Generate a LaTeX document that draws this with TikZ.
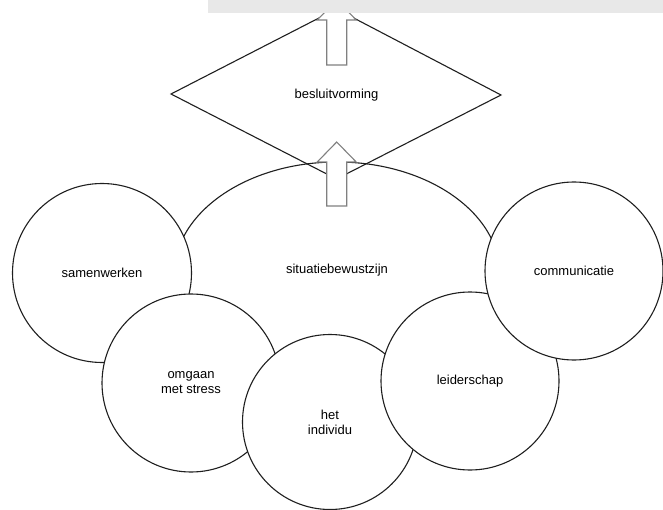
\documentclass[tikz,border=0pt]{standalone}
\usepackage{fontspec}
\setmainfont{Liberation Sans}
\begin{document}
\begin{tikzpicture}[x=1pt,y=-1pt,
  outline/.style={draw=black!88, line width=1.1pt},
  topic/.style={circle, outline, fill=white, inner sep=0pt, align=center,
    font=\fontsize{13}{15}\selectfont},
  txt/.style={inner sep=0pt, align=center, font=\fontsize{13}{15}\selectfont},
  blockarrow/.style={draw=black!50, line width=1.1pt, fill=white, line join=miter}]
\useasboundingbox (0,0) rectangle (663,510);

% central ellipse: situational awareness
\draw[outline, fill=white] (337,275) ellipse [x radius=163, y radius=113];
\node[txt] (sb) at (337,270) {situatiebewustzijn};

% decision diamond
\coordinate (dl) at (171,94);
\coordinate (dt) at (336.5,9);
\coordinate (dr) at (501,95);
\coordinate (db) at (336.5,179);
\draw[outline, line join=miter] (dl) -- (dt) -- (dr) -- (db) -- cycle;
\node[txt] (bv) at (336.5,95) {besluitvorming};

% block arrows pointing upward
\draw[blockarrow] (326.7,65) -- (326.7,20) -- (317.2,20) -- (336.7,0)
  -- (356.2,20) -- (346.7,20) -- (346.7,65) -- cycle;
\draw[blockarrow] (326.7,206) -- (326.7,162) -- (317.2,162) -- (336.7,142)
  -- (356.2,162) -- (346.7,162) -- (346.7,206) -- cycle;

% surrounding competences
\node[topic, minimum size=179pt] (sw) at (102,273) {samenwerken};
\node[topic, minimum size=178pt] (os) at (191,383) {omgaan\\met stress};
\node[topic, minimum size=175pt] (hi) at (330,422) {het\\individu};
\node[topic, minimum size=178pt] (ls) at (470,381) {leiderschap};
\node[topic, minimum size=178pt] (cm) at (574,271) {communicatie};

% grey band along the top edge
\fill[black!9] (208,0) rectangle (663,13);
\end{tikzpicture}
\end{document}
